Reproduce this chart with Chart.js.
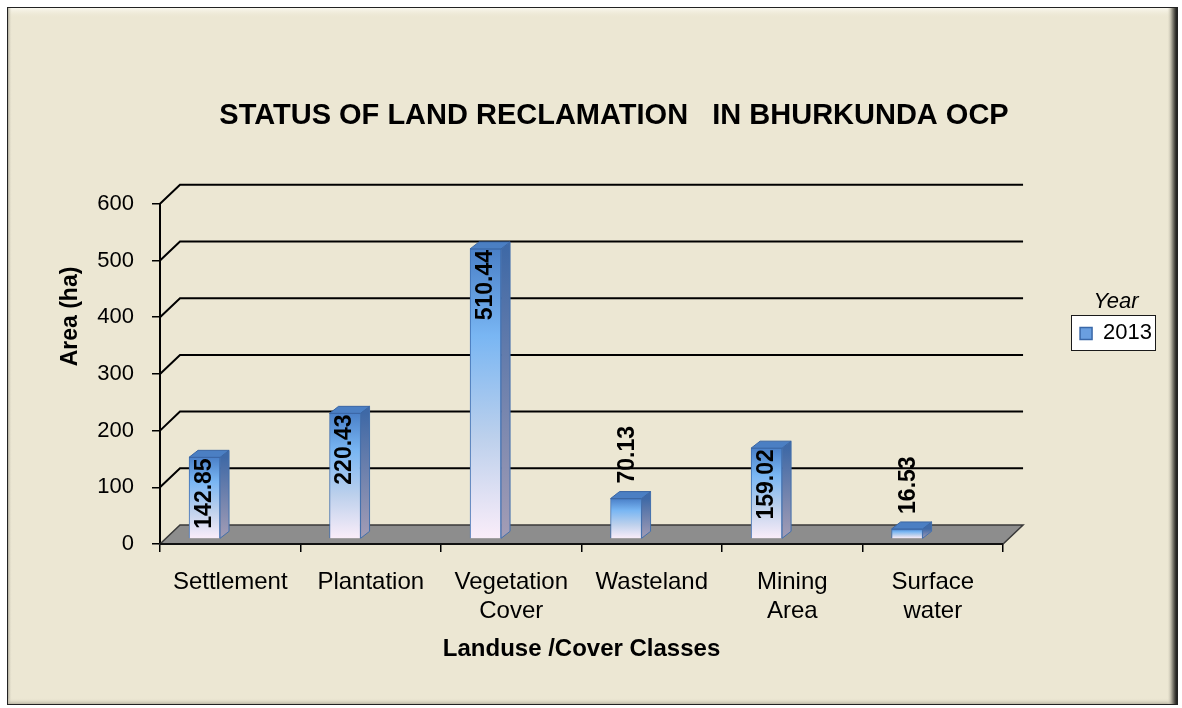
<!DOCTYPE html>
<html><head><meta charset="utf-8">
<script src="https://cdn.jsdelivr.net/npm/chart.js@4.4.1/dist/chart.umd.min.js"></script>
<style>html,body{margin:0;padding:0;background:#fff;}canvas{display:block;}</style>
</head><body>
<canvas id="c" width="1182" height="708"></canvas>
<script>
// ---- data ----
const categories = ['Settlement', 'Plantation', ['Vegetation', 'Cover'], 'Wasteland', ['Mining', 'Area'], ['Surface', 'water']];
const seriesName = '2013';
const areaValues = [142.85, 220.43, 510.44, 70.13, 159.02, 16.53];
const yTickMin = 0, yTickMax = 600, yTickStep = 100;
const chartTitle = 'STATUS OF LAND RECLAMATION   IN BHURKUNDA OCP';
const xTitle = 'Landuse /Cover Classes';
const yTitle = 'Area (ha)';
const legendTitle = 'Year';

// ---- helpers ----
const FONT = "'Liberation Sans', Arial, Helvetica, sans-serif";
Chart.defaults.font.family = FONT;
Chart.defaults.color = '#000';

const WDX = 20, WDY = -19;   // wall depth offset
const BDX = 9, BDY = -7;     // bar depth offset

function barGradient(c) {
  const chart = c.chart;
  if (!chart.chartArea || c.type !== 'data') return '#78b4f2';
  const ys = chart.scales.yBar;
  const top = ys.getPixelForValue(c.parsed.y);
  const bot = ys.getPixelForValue(0);
  if (!isFinite(top) || !isFinite(bot) || top === bot) return '#78b4f2';
  const g = chart.ctx.createLinearGradient(0, top, 0, bot);
  g.addColorStop(0, '#4a80c8');
  g.addColorStop(0.3, '#79b6f3');
  g.addColorStop(0.65, '#bcd0ec');
  g.addColorStop(1, '#faedf9');
  return g;
}

const deco = {
  id: 'deco3d',
  beforeDraw(chart) {
    const ctx = chart.ctx, W = chart.width, H = chart.height;
    ctx.save();
    ctx.fillStyle = '#fff'; ctx.fillRect(0, 0, W, H);
    const L = 7, T = 7, R = 1178, B = 705;
    ctx.fillStyle = '#ECE7D3'; ctx.fillRect(L, T, R - L, B - T);
    let g = ctx.createLinearGradient(0, T, 0, T + 11);
    g.addColorStop(0, '#fdfcf5'); g.addColorStop(1, 'rgba(236,231,211,0)');
    ctx.fillStyle = g; ctx.fillRect(L, T, R - L, 11);
    g = ctx.createLinearGradient(L, 0, L + 5, 0);
    g.addColorStop(0, '#8f8c80'); g.addColorStop(1, 'rgba(236,231,211,0)');
    ctx.fillStyle = g; ctx.fillRect(L, T, 5, B - T);
    g = ctx.createLinearGradient(0, B - 7, 0, B);
    g.addColorStop(0, 'rgba(236,231,211,0)'); g.addColorStop(1, '#a9a594');
    ctx.fillStyle = g; ctx.fillRect(L, B - 7, R - L, 7);
    g = ctx.createLinearGradient(R - 11, 0, R, 0);
    g.addColorStop(0, 'rgba(236,231,211,0)'); g.addColorStop(0.45, '#9b988a'); g.addColorStop(0.75, '#3c3b36'); g.addColorStop(1, '#0d0d0d');
    ctx.fillStyle = g; ctx.fillRect(R - 11, T, 11, B - T);
    ctx.strokeStyle = '#222'; ctx.lineWidth = 1;
    ctx.strokeRect(L + 0.5, T + 0.5, R - L - 1, B - T - 1);

    // legend frame
    const lg = chart.legend;
    if (lg && lg.legendHitBoxes && lg.legendHitBoxes.length) {
      const hb = lg.legendHitBoxes[0];
      const x0 = Math.round(hb.left - 9), y0 = Math.round(hb.top - 7);
      const x1 = Math.round(hb.left + hb.width + 3), y1 = Math.round(hb.top + hb.height + 6);
      ctx.fillStyle = '#fff'; ctx.fillRect(x0, y0, x1 - x0, y1 - y0);
      ctx.strokeStyle = '#1a1a1a'; ctx.lineWidth = 1;
      ctx.strokeRect(x0 + 0.5, y0 + 0.5, x1 - x0, y1 - y0);
    }
    ctx.restore();
  },
  beforeDatasetsDraw(chart) {
    const ctx = chart.ctx, ca = chart.chartArea, ys = chart.scales.y;
    ctx.save();
    const y0 = ys.getPixelForValue(0);
    // floor
    ctx.beginPath();
    ctx.moveTo(ca.left, y0); ctx.lineTo(ca.right, y0);
    ctx.lineTo(ca.right + WDX, y0 + WDY); ctx.lineTo(ca.left + WDX, y0 + WDY);
    ctx.closePath();
    ctx.fillStyle = '#8d8d8d'; ctx.fill();
    ctx.strokeStyle = '#3a3a3a'; ctx.lineWidth = 1.5; ctx.stroke();
    ctx.beginPath(); ctx.moveTo(ca.left, y0); ctx.lineTo(ca.right, y0);
    ctx.strokeStyle = '#111'; ctx.lineWidth = 2; ctx.stroke();
    // wall gridlines
    ys.ticks.forEach(t => {
      if (t.value === 0) return;
      const py = ys.getPixelForValue(t.value);
      ctx.beginPath();
      ctx.moveTo(ca.left, py);
      ctx.lineTo(ca.left + WDX, py + WDY);
      ctx.lineTo(ca.right + WDX, py + WDY);
      ctx.strokeStyle = '#000'; ctx.lineWidth = 2; ctx.stroke();
    });
    ctx.restore();
  },
  afterDatasetsDraw(chart) {
    const ctx = chart.ctx;
    const meta = chart.getDatasetMeta(0);
    ctx.save();
    meta.data.forEach((bar, i) => {
      const p = bar.getProps(['x', 'y', 'base', 'width'], true);
      const l = p.x - p.width / 2, r = p.x + p.width / 2, top = p.y, base = p.base;
      // side face
      let g = ctx.createLinearGradient(0, top, 0, base);
      g.addColorStop(0, '#3f69a6'); g.addColorStop(1, '#a49db5');
      ctx.beginPath();
      ctx.moveTo(r, top); ctx.lineTo(r + BDX, top + BDY); ctx.lineTo(r + BDX, base + BDY); ctx.lineTo(r, base);
      ctx.closePath();
      ctx.fillStyle = g; ctx.fill();
      ctx.strokeStyle = '#4470ad'; ctx.lineWidth = 1; ctx.stroke();
      // top face
      ctx.beginPath();
      ctx.moveTo(l, top); ctx.lineTo(l + BDX, top + BDY); ctx.lineTo(r + BDX, top + BDY); ctx.lineTo(r, top);
      ctx.closePath();
      ctx.fillStyle = '#4b7fc3'; ctx.fill();
      ctx.strokeStyle = '#3a66a4'; ctx.stroke();
    });
    // value labels
    ctx.font = 'bold 23px ' + FONT;
    ctx.fillStyle = '#000';
    ctx.textBaseline = 'middle';
    meta.data.forEach((bar, i) => {
      const p = bar.getProps(['x', 'y', 'base'], true);
      const txt = areaValues[i].toFixed(2);
      const tw = ctx.measureText(txt).width;
      const h = p.base - p.y;
      ctx.save();
      if (h > tw + 6) {
        ctx.translate(p.x, p.y + 1);
        ctx.rotate(-Math.PI / 2);
        ctx.textAlign = 'right';
      } else {
        ctx.translate(p.x + 2, p.y - 15);
        ctx.rotate(-Math.PI / 2);
        ctx.textAlign = 'left';
      }
      ctx.fillText(txt, 0, 0);
      ctx.restore();
    });
    // y axis title
    const yt = chart.options.scales.y.title;
    ctx.save();
    ctx.translate(70.5, 316.5);
    ctx.rotate(-Math.PI / 2);
    ctx.font = 'bold 23px ' + FONT;
    ctx.textAlign = 'center';
    ctx.fillText(yt.text, 0, 0);
    ctx.restore();
    ctx.restore();
  }
};

const points = categories.map((c, i) => ({x: i, y: areaValues[i]}));

new Chart(document.getElementById('c'), {
  type: 'bar',
  data: {
    labels: categories,
    datasets: [{
      label: seriesName,
      data: points,
      xAxisID: 'xBar',
      yAxisID: 'yBar',
      backgroundColor: barGradient,
      borderColor: '#3d6db0',
      borderWidth: 1,
      barThickness: 31
    }]
  },
  options: {
    responsive: false,
    animation: false,
    devicePixelRatio: 1,
    layout: {padding: {left: 66, right: 20, top: 0, bottom: 0}},
    plugins: {
      tooltip: {enabled: false},
      title: {
        display: true,
        text: chartTitle,
        color: '#000',
        font: {size: 29, weight: 'bold'},
        padding: {top: 99, bottom: 70}
      },
      legend: {
        display: true,
        position: 'right',
        align: 'start',
        title: {display: true, text: legendTitle, color: '#000', font: {size: 22, style: 'italic'}, padding: {top: 291, bottom: -5}},
        labels: {
          color: '#000',
          font: {size: 22},
          boxWidth: 12,
          boxHeight: 12,
          padding: 10,
          generateLabels(chart) {
            const items = Chart.defaults.plugins.legend.labels.generateLabels(chart);
            items.forEach(it => { it.fillStyle = '#6a9fe0'; it.strokeStyle = '#3a68a8'; it.lineWidth = 1.5; });
            return items;
          }
        }
      }
    },
    scales: {
      x: {
        type: 'category',
        position: 'bottom',
        offset: true,
        grid: {display: true, offset: true, drawOnChartArea: false, drawTicks: true, tickLength: 8, color: '#000', lineWidth: 1.5},
        border: {display: true, color: '#000', width: 2},
        ticks: {font: {size: 24}, color: '#000', padding: 16, maxRotation: 0, autoSkip: false},
        title: {display: true, text: xTitle, color: '#000', font: {size: 24, weight: 'bold'}, padding: {top: 4, bottom: 44}},
        afterFit(s) { s.height = 164; }
      },
      y: {
        type: 'linear',
        position: 'left',
        min: yTickMin,
        max: yTickMax,
        ticks: {stepSize: yTickStep, font: {size: 22}, color: '#000', padding: 18},
        grid: {display: true, drawOnChartArea: false, drawTicks: true, tickLength: 8, color: '#000', lineWidth: 1.5},
        border: {display: true, color: '#000', width: 2},
        title: {display: false, text: yTitle},
        afterFit(s) { s.width = 94; }
      },
      xBar: {
        type: 'linear',
        axis: 'x',
        position: 'bottom',
        display: false,
        offset: false,
        min: -0.317,
        max: 5.683
      },
      yBar: {
        type: 'linear',
        axis: 'y',
        position: 'right',
        display: true,
        min: -10,
        max: 590,
        grid: {display: false, drawTicks: false},
        border: {display: false},
        ticks: {display: false},
        afterFit(s) { s.width = 67; }
      }
    }
  },
  plugins: [deco]
});
</script>
</body></html>
